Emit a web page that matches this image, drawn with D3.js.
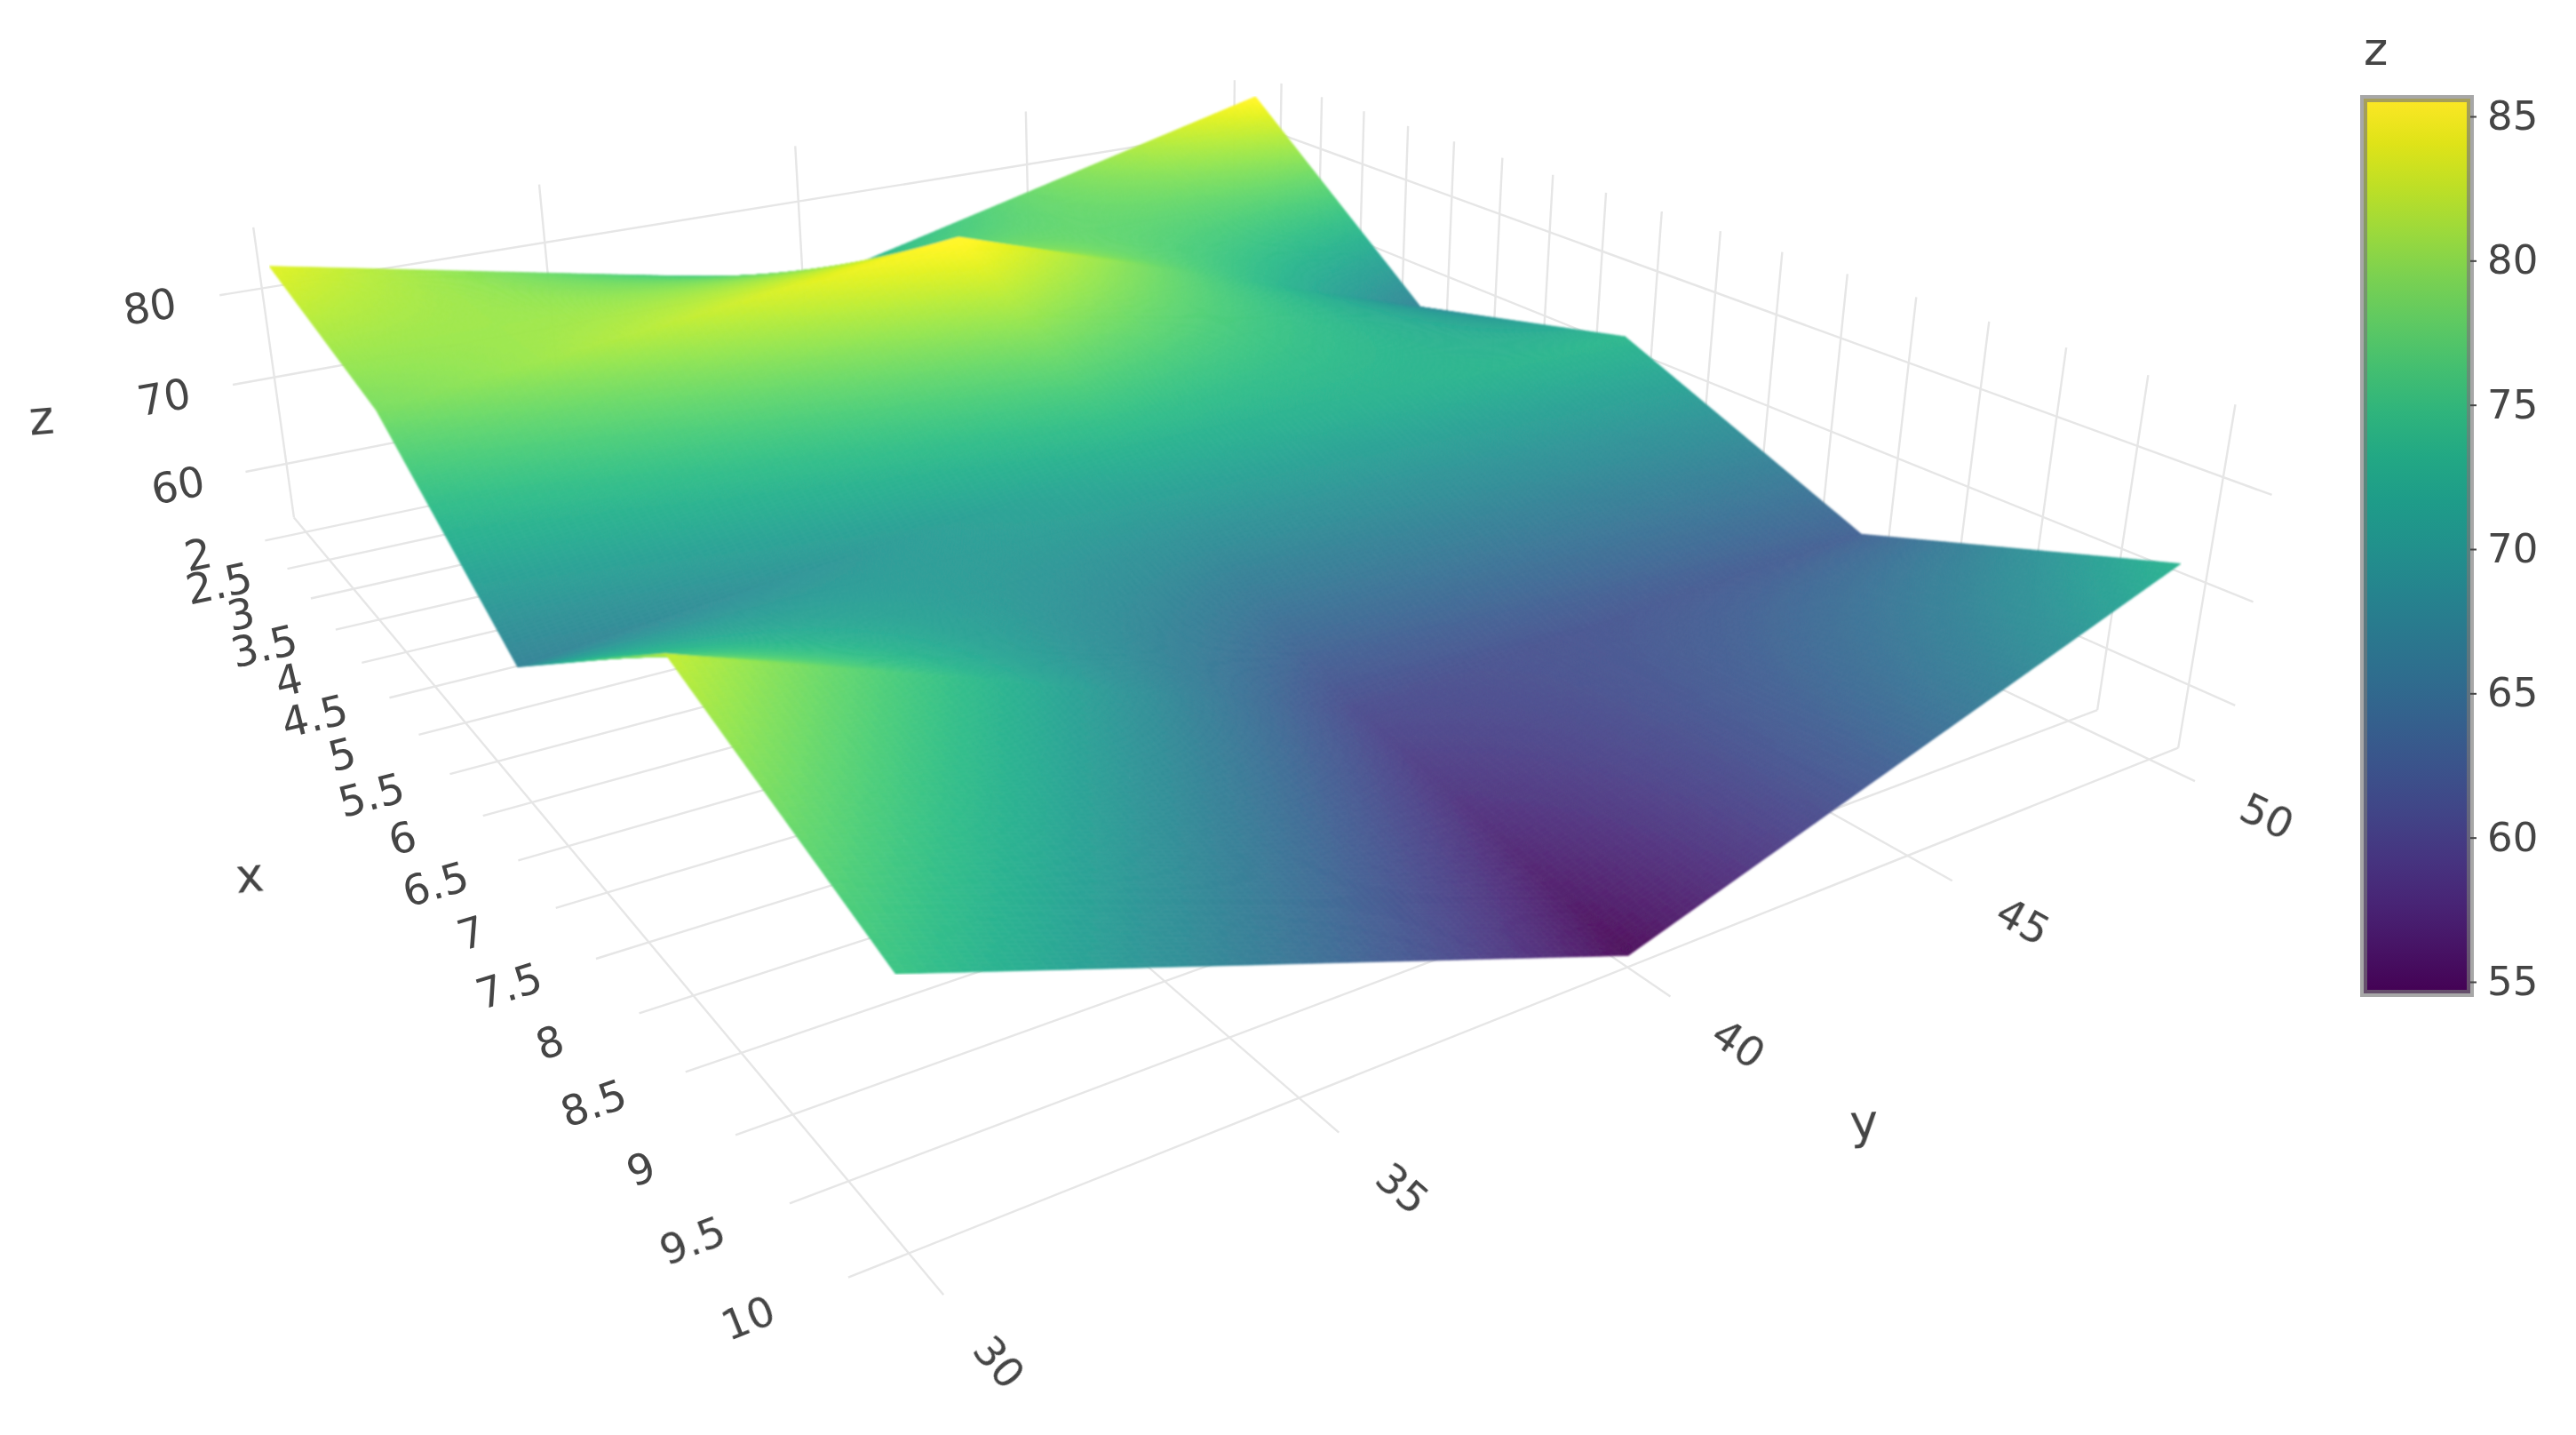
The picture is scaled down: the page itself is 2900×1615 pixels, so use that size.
<!DOCTYPE html><html><head><meta charset="utf-8"><script src="https://cdn.jsdelivr.net/npm/d3@7"></script>
<style>html,body{margin:0;background:#fff}svg{display:block}</style></head><body><svg id="c" width="2900" height="1615"></svg>
<script>
// ---- data ----
const xValues=[2,4,6,8,10];
const yValues=[30,40,50];
const zValues=[ // rows: x, columns: y
 [83.7,71.6,85.5],
 [78.8,85.65,66.9],
 [66.7,72,73.3],
 [82.4,60.5,62.8],
 [74.9,54.7,72.8]];
const xTicks=d3.range(2,10.01,0.5);
const yTicks=[30,35,40,45,50];
const zTicks=[60,70,80];
const colorbarTicks=[55,60,65,70,75,80,85];
const xDomain=[1.73,10],yDomain=[30,50.65],zDomain=[53.65,86.7],colorDomain=[54.7,85.65];
// fitted camera (homogeneous 3x4, on unit-cube coordinates)
const camera=[274.4442,1410.307,-58.36686,330.9374,252.1685,-142.737,-337.8004,582.4202,-0.4083045,0.2302958,-0.04418854];

const svg=d3.select('#c');
const defs=svg.append('defs');
defs.append('filter').attr('id','soft').append('feGaussianBlur').attr('stdDeviation',0.7);
defs.append('filter').attr('id','smooth').attr('x',0).attr('y',0).attr('width',1).attr('height',1).append('feGaussianBlur').attr('stdDeviation',1);
const ux=d3.scaleLinear().domain(xDomain).range([0,1]),uy=d3.scaleLinear().domain(yDomain).range([0,1]),uz=d3.scaleLinear().domain(zDomain).range([0,1]);
function proj(x,y,z){const P=camera,u=ux(x),v=uy(y),w=uz(z),d=P[8]*u+P[9]*v+P[10]*w+1;return [(P[0]*u+P[1]*v+P[2]*w+P[3])/d,(P[4]*u+P[5]*v+P[6]*w+P[7])/d,d];}
const GRID='#e6e6e6',TXT='#444',FONT='"DejaVu Sans",Verdana,sans-serif';
const gridG=svg.append('g').attr('fill','none').attr('stroke',GRID).attr('stroke-width',2.4).attr('filter','url(#soft)');
const line=d3.line();
const [x0,x1]=xDomain,[y0,y1]=yDomain,[z0,z1]=zDomain;
const tx=0.27,ty=0.7; // tick lengths in data units
const segs=[];
xTicks.forEach(x=>{segs.push([[x,y0-ty,z0],[x,y1,z0]]);segs.push([[x,y1,z0],[x,y1,z1]]);});
yTicks.forEach(y=>{segs.push([[x0,y,z0],[x1+tx,y,z0]]);segs.push([[x0,y,z0],[x0,y,z1]]);});
zTicks.forEach(z=>{segs.push([[x0,y0-ty,z],[x0,y1,z]]);segs.push([[x0,y1,z],[x1+tx,y1,z]]);});
gridG.selectAll('path').data(segs).join('path').attr('d',s=>line(s.map(p=>proj(...p).slice(0,2))));

// surface: each grid cell is a bilinear patch cut into small quads, sorted far to near
const lit=t=>{const c=d3.rgb(d3.interpolateViridis(t));return d3.rgb(Math.min(255,c.r+12),Math.min(255,c.g+16),Math.min(255,c.b+10));};
const colorZ=d3.scaleSequential(v=>lit(v)).domain(colorDomain).clamp(true);
const N=80,fd=[];
for(let i=0;i<xValues.length-1;i++)for(let j=0;j<yValues.length-1;j++){
  const xs=d3.scaleLinear().domain([0,N]).range([xValues[i],xValues[i+1]]),ys=d3.scaleLinear().domain([0,N]).range([yValues[j],yValues[j+1]]);
  const zb=(a,b)=>{const s=a/N,t=b/N;return zValues[i][j]*(1-s)*(1-t)+zValues[i+1][j]*s*(1-t)+zValues[i][j+1]*(1-s)*t+zValues[i+1][j+1]*s*t;};
  for(let a=0;a<N;a++)for(let b=0;b<N;b++){
    const corners=[[a,b],[a+1,b],[a+1,b+1],[a,b+1]].map(([p,q])=>proj(xs(p),ys(q),zb(p,q)));
    fd.push({d:'M'+corners.map(q=>q[0].toFixed(2)+','+q[1].toFixed(2)).join('L')+'Z',col:colorZ(zb(a+.5,b+.5))+'',depth:d3.mean(corners,q=>q[2])});
  }
}
fd.sort((a,b)=>b.depth-a.depth);
svg.append('g').attr('filter','url(#smooth)').attr('stroke-width',0.6).attr('stroke-linejoin','round').selectAll('path').data(fd).join('path').attr('d',f=>f.d).attr('fill',f=>f.col).attr('stroke',f=>f.col);

// 3D axis labels: rotated along the tick direction
function label(g,a,b,t,size,fixed){const p=proj(...a),q=proj(...b);let ang=Math.atan2(p[1]-q[1],p[0]-q[0])*180/Math.PI;if(ang>90)ang-=180;if(ang<-90)ang+=180;
  if(fixed!==undefined)ang=fixed;
  g.append('text').attr('transform',`translate(${p[0]},${p[1]}) rotate(${ang})`).attr('text-anchor','middle').attr('dominant-baseline','central').attr('font-size',size).text(t);}
const lab=svg.append('g').attr('fill',TXT).attr('font-family',FONT).attr('filter','url(#soft)');
const fmt=d=>String(d);
xTicks.forEach(x=>label(lab,[x,y0-ty*2.6,z0],[x,y0,z0],fmt(x),47));
yTicks.forEach(y=>label(lab,[x1+tx*2.52,y,z0],[x1,y,z0],fmt(y),47));
zTicks.forEach(z=>label(lab,[x0,y0-ty*2.62,z],[x0,y0,z],fmt(z),47));
label(lab,[5.95,y0-ty*5.45,z0],[5.95,y0,z0],'x',54,-5);
label(lab,[x1+tx*4.95,40.1,z0],[x1,40.1,z0],'y',54,-3);
label(lab,[x0,y0-ty*5.4,70.2],[x0,y0,70.2],'z',54,-5);

// colorbar
const cbX=2661,cbW=120,cbTop=111,cbBot=1118;
const cbY=d3.scaleLinear().domain([55,85]).range([1105.5,131.5]);
const grad=defs.append('linearGradient').attr('id','vir').attr('x1',0).attr('x2',0).attr('y1',1).attr('y2',0);
d3.range(0,1.001,0.05).forEach(t=>grad.append('stop').attr('offset',t).attr('stop-color',d3.interpolateViridis(t)));
svg.append('rect').attr('x',cbX).attr('y',cbTop).attr('width',cbW).attr('height',cbBot-cbTop).attr('fill','url(#vir)').attr('stroke','rgba(120,120,120,0.65)').attr('stroke-width',8);
const cbG=svg.append('g').attr('filter','url(#soft)');
const cb=cbG.selectAll('g').data(colorbarTicks).join('g').attr('transform',d=>`translate(${cbX+cbW},${cbY(d)})`);
cb.append('line').attr('x1',0).attr('x2',7).attr('stroke',TXT).attr('stroke-width',2);
cb.append('text').attr('x',19).attr('y',-1).attr('dominant-baseline','central').attr('font-family',FONT).attr('font-size',45).attr('fill',TXT).text(d=>d);
cbG.append('text').attr('x',cbX).attr('y',73).attr('font-family',FONT).attr('font-size',52).attr('fill',TXT).text('z');
</script></body></html>
